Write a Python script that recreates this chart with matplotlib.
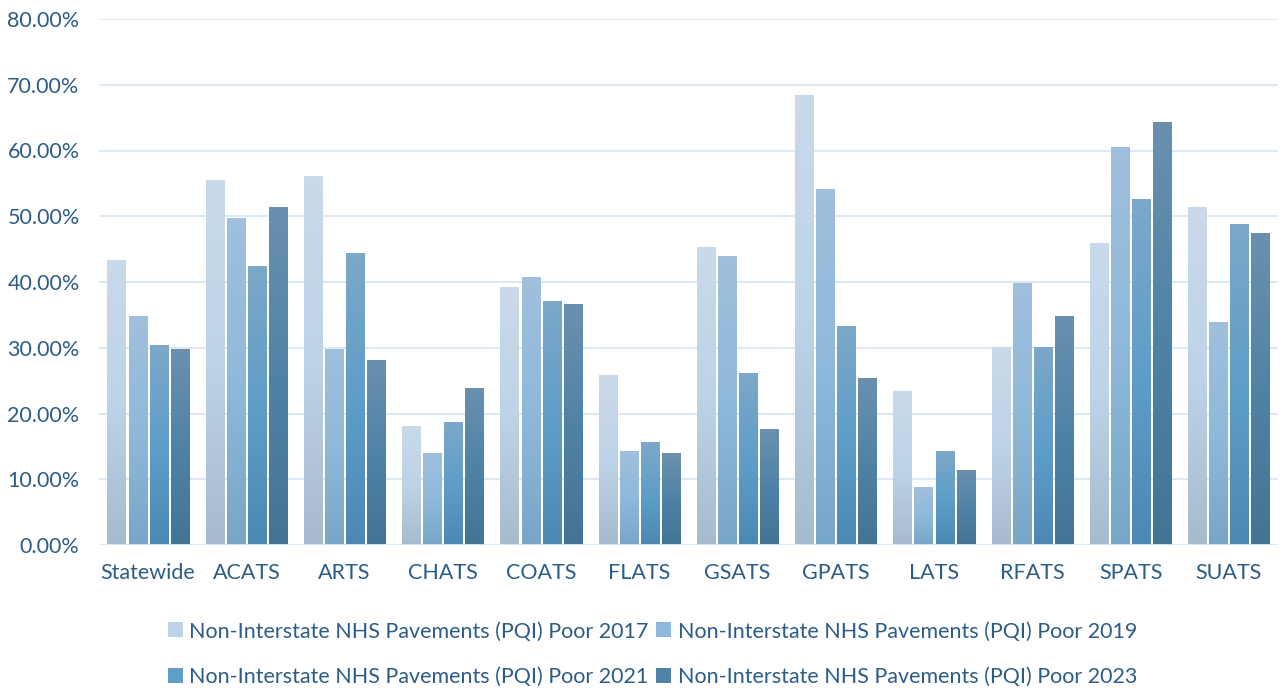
import matplotlib.pyplot as plt
import numpy as np
from matplotlib.colors import LinearSegmentedColormap
from matplotlib.patches import Patch
from matplotlib.ticker import PercentFormatter, MultipleLocator

CATEGORIES = ["Statewide", "ACATS", "ARTS", "CHATS", "COATS", "FLATS",
              "GSATS", "GPATS", "LATS", "RFATS", "SPATS", "SUATS"]
SERIES = [
    "Non-Interstate NHS Pavements (PQI) Poor 2017",
    "Non-Interstate NHS Pavements (PQI) Poor 2019",
    "Non-Interstate NHS Pavements (PQI) Poor 2021",
    "Non-Interstate NHS Pavements (PQI) Poor 2023",
]
poor_2017 = [43.2, 55.4, 56.0, 18.0, 39.1, 25.8, 45.2, 68.3, 23.4, 30.1, 45.8, 51.4]
poor_2019 = [34.8, 49.7, 29.7, 13.9, 40.7, 14.2, 43.9, 54.1, 8.7, 39.8, 60.4, 33.8]
poor_2021 = [30.4, 42.3, 44.4, 18.6, 37.0, 15.6, 26.1, 33.2, 14.2, 30.0, 52.5, 48.8]
poor_2023 = [29.7, 51.4, 28.0, 23.8, 36.5, 13.9, 17.5, 25.3, 11.4, 34.7, 64.3, 47.3]
values = [poor_2017, poor_2019, poor_2021, poor_2023]

# gradient stops per series: top, middle, bottom
GRADIENTS = [
    ["#C9DAEA", "#BDD3E7", "#A7BBCF"],
    ["#A0C0DD", "#8FB9DA", "#78A6C8"],
    ["#7CA8C9", "#5F9EC8", "#4B89B4"],
    ["#6B90AF", "#4F83A6", "#427494"],
]
TEXT_COLOR = "#2C5D88"
GRID_COLOR = "#DCE9F5"

plt.rcParams['font.family'] = ['Lato', 'DejaVu Sans']

fig = plt.figure(figsize=(12.84, 6.88), dpi=100)
ax = fig.add_axes([0.0771, 0.2078, 0.9182, 0.7646])

x = np.arange(len(CATEGORIES))
pitch = 0.214
width = 0.185
grad = np.linspace(1, 0, 256).reshape(-1, 1)
for i, series in enumerate(values):
    cmap = LinearSegmentedColormap.from_list("g%d" % i, GRADIENTS[i][::-1])
    for xi, v in zip(x, series):
        cx = xi + (i - 1.5) * pitch
        h = v / 100
        ax.imshow(grad, cmap=cmap, aspect='auto', origin='upper',
                  extent=[cx - width / 2, cx + width / 2, 0, h], zorder=3,
                  interpolation='bilinear')

ax.set_xlim(-0.5, len(CATEGORIES) - 0.5)
ax.set_ylim(0, 0.8)
ax.set_aspect('auto')
ax.yaxis.set_major_locator(MultipleLocator(0.1))
ax.yaxis.set_major_formatter(PercentFormatter(xmax=1, decimals=2))
ax.set_xticks(x)
ax.set_xticklabels(CATEGORIES)
ax.grid(axis='y', color=GRID_COLOR, linewidth=1.5, zorder=0)
for s in ax.spines.values():
    s.set_visible(False)
ax.axhline(0, color=GRID_COLOR, linewidth=2, zorder=4)
ax.tick_params(axis='both', length=0, labelsize=15.5, colors=TEXT_COLOR)
ax.tick_params(axis='x', pad=13)
ax.tick_params(axis='y', pad=14)

# legend fills column-wise, so order entries to read row-wise
order = [0, 2, 1, 3]
handles = [Patch(facecolor=GRADIENTS[k][1], edgecolor='none') for k in order]
labels = [SERIES[k] for k in order]
fig.legend(handles, labels, loc='center', bbox_to_anchor=(0.508, 0.049),
           ncol=2, frameon=False, fontsize=15.5, labelcolor=TEXT_COLOR,
           handlelength=0.7, handleheight=0.7, handletextpad=0.3,
           columnspacing=0.35, labelspacing=1.2)

fig.savefig("out.png", dpi=100)
